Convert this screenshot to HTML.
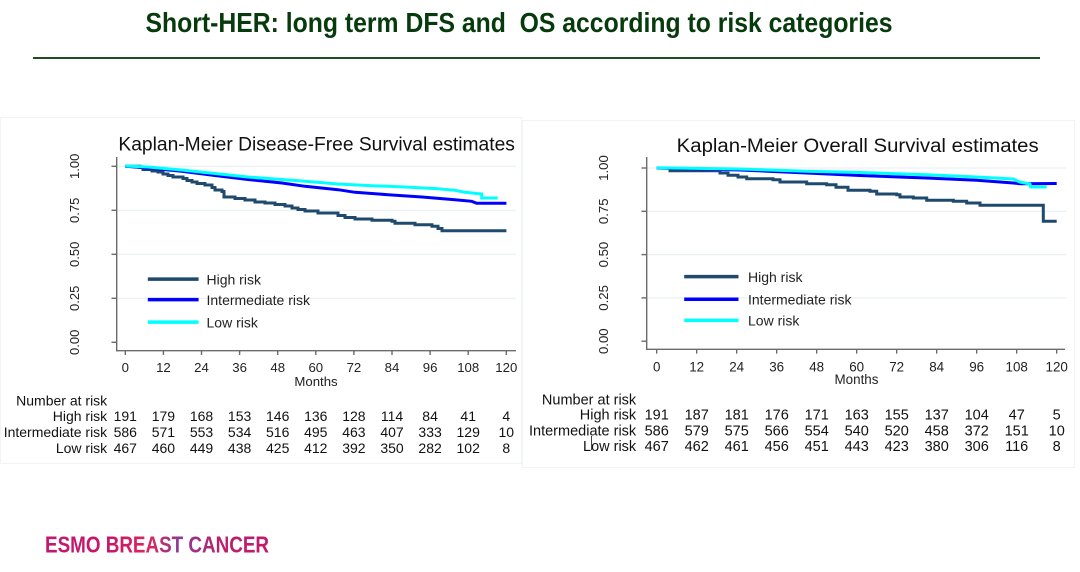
<!DOCTYPE html>
<html>
<head>
<meta charset="utf-8">
<style>
  html,body{margin:0;padding:0;background:#fff;}
  body{width:1080px;height:572px;overflow:hidden;}
  svg{display:block;}
  text{font-family:"Liberation Sans",Arial,sans-serif;}
</style>
</head>
<body>
<svg width="1080" height="572" viewBox="0 0 1080 572" xmlns="http://www.w3.org/2000/svg">
  <defs>
    <linearGradient id="esmo" x1="45" y1="0" x2="270" y2="0" gradientUnits="userSpaceOnUse">
      <stop offset="0" stop-color="#c2186f"/>
      <stop offset="0.3" stop-color="#c8166a"/>
      <stop offset="0.45" stop-color="#e0245c"/>
      <stop offset="0.6" stop-color="#8c3c94"/>
      <stop offset="0.78" stop-color="#b8206e"/>
      <stop offset="1" stop-color="#c3186c"/>
    </linearGradient>
  </defs>
  <rect width="1080" height="572" fill="#fff"/>

  <!-- Header -->
  <text x="145.5" y="32" font-size="28" font-weight="bold" fill="#073a0c" textLength="747" lengthAdjust="spacingAndGlyphs" xml:space="preserve">Short-HER: long term DFS and  OS according to risk categories</text>
  <line x1="33" y1="58" x2="1040" y2="58" stroke="#1e4d22" stroke-width="2"/>

  <!-- Panel borders -->
  <rect x="0.5" y="117.5" width="521" height="346" fill="none" stroke="#f0f4f5" stroke-width="1"/>
  <rect x="522.5" y="120.5" width="552" height="347" fill="none" stroke="#f0f4f5" stroke-width="1"/>

  <!-- ================= LEFT CHART (DFS) ================= -->
  <text x="118.4" y="150.5" font-size="19" fill="#111" textLength="396.5" lengthAdjust="spacingAndGlyphs">Kaplan-Meier Disease-Free Survival estimates</text>

  <g stroke="#eaf1f3" stroke-width="1.2">
    <line x1="117" y1="166.3" x2="516" y2="166.3"/>
    <line x1="117" y1="210.3" x2="516" y2="210.3"/>
    <line x1="117" y1="254.3" x2="516" y2="254.3"/>
    <line x1="117" y1="298.3" x2="516" y2="298.3"/>
  </g>
  <g stroke="#6b6b6b" stroke-width="1.4" fill="none">
    <line x1="116.7" y1="157" x2="116.7" y2="351.4"/>
    <line x1="116" y1="350.7" x2="516" y2="350.7"/>
    <line x1="111.5" y1="166.3" x2="116.7" y2="166.3"/>
    <line x1="111.5" y1="210.3" x2="116.7" y2="210.3"/>
    <line x1="111.5" y1="254.3" x2="116.7" y2="254.3"/>
    <line x1="111.5" y1="298.3" x2="116.7" y2="298.3"/>
    <line x1="111.5" y1="342.3" x2="116.7" y2="342.3"/>
    <line x1="125.3" y1="350.7" x2="125.3" y2="355"/>
    <line x1="163.4" y1="350.7" x2="163.4" y2="355"/>
    <line x1="201.5" y1="350.7" x2="201.5" y2="355"/>
    <line x1="239.6" y1="350.7" x2="239.6" y2="355"/>
    <line x1="277.7" y1="350.7" x2="277.7" y2="355"/>
    <line x1="315.8" y1="350.7" x2="315.8" y2="355"/>
    <line x1="353.9" y1="350.7" x2="353.9" y2="355"/>
    <line x1="392.0" y1="350.7" x2="392.0" y2="355"/>
    <line x1="430.1" y1="350.7" x2="430.1" y2="355"/>
    <line x1="468.2" y1="350.7" x2="468.2" y2="355"/>
    <line x1="506.3" y1="350.7" x2="506.3" y2="355"/>
  </g>
  <g font-size="13" fill="#222" text-anchor="middle">
    <text transform="translate(79.2,166.3) rotate(-90)">1.00</text>
    <text transform="translate(79.2,210.3) rotate(-90)">0.75</text>
    <text transform="translate(79.2,254.3) rotate(-90)">0.50</text>
    <text transform="translate(79.2,298.3) rotate(-90)">0.25</text>
    <text transform="translate(79.2,342.3) rotate(-90)">0.00</text>
  </g>
  <g font-size="13.2" fill="#222" text-anchor="middle">
    <text x="125.3" y="372">0</text>
    <text x="163.4" y="372">12</text>
    <text x="201.5" y="372">24</text>
    <text x="239.6" y="372">36</text>
    <text x="277.7" y="372">48</text>
    <text x="315.8" y="372">60</text>
    <text x="353.9" y="372">72</text>
    <text x="392.0" y="372">84</text>
    <text x="430.1" y="372">96</text>
    <text x="468.2" y="372">108</text>
    <text x="506.3" y="372">120</text>
    <text x="316" y="386">Months</text>
  </g>

  <path d="M125.3 166.3 H140 V167.5 H143 V169.5 H152 V171 H158 V172 H163 V174 H168 V175.5 H173 V177 H183 V178.5 H187 V180.5 H192 V182 H197 V183.5 H205 V185 H212 V187.5 H215 V190 H222 V191.5 H224 V197 H235 V198.5 H245 V200 H255 V202 H265 V203 H275 V204.5 H285 V206 H292 V208 H298 V209.5 H305 V211 H318 V213 H338 V215.5 H345 V217.5 H355 V219 H372 V220.3 H392 V221.3 H395 V223.3 H415 V224.7 H432 V226.3 H438 V228.5 H442 V230.7 H506.4" fill="none" stroke="#1f4a6d" stroke-width="3"/>
  <polyline points="125.3,166.3 148,168 181.7,171.3 215,175.5 248,179.5 282,183 305,186.3 338,189.7 355,192.3 388,194.7 422,197 455,199.7 471.7,201.3 476.7,203.3 506.4,203.3" fill="none" stroke="#0000ff" stroke-width="3"/>
  <polyline points="125.3,166 148,167 181.7,170 215,173.5 248,177 282,179.5 305,181.3 338,184 372,185.7 405,187 438,188.7 455,190.3 465,192.3 481.7,194 481.7,198 497.7,198" fill="none" stroke="#00ffff" stroke-width="3"/>

  <line x1="147.8" y1="279.1" x2="198.6" y2="279.1" stroke="#1f4a6d" stroke-width="3.5"/>
  <line x1="147.8" y1="299.6" x2="198.6" y2="299.6" stroke="#0000ff" stroke-width="3.5"/>
  <line x1="147.8" y1="322.1" x2="198.6" y2="322.1" stroke="#00ffff" stroke-width="3.5"/>
  <g font-size="14" fill="#222">
    <text x="206.5" y="284.3">High risk</text>
    <text x="206.5" y="304.8">Intermediate risk</text>
    <text x="206.5" y="327.3">Low risk</text>
  </g>

  <g font-size="14" fill="#111">
    <g text-anchor="end">
      <text x="107.2" y="405.5">Number at risk</text>
      <text x="107.2" y="421">High risk</text>
      <text x="107.2" y="437">Intermediate risk</text>
      <text x="107.2" y="453">Low risk</text>
    </g>
    <g text-anchor="middle">
      <text y="421"><tspan x="125.3">191</tspan><tspan x="163.4">179</tspan><tspan x="201.5">168</tspan><tspan x="239.6">153</tspan><tspan x="277.7">146</tspan><tspan x="315.8">136</tspan><tspan x="353.9">128</tspan><tspan x="392.0">114</tspan><tspan x="430.1">84</tspan><tspan x="468.2">41</tspan><tspan x="506.3">4</tspan></text>
      <text y="437"><tspan x="125.3">586</tspan><tspan x="163.4">571</tspan><tspan x="201.5">553</tspan><tspan x="239.6">534</tspan><tspan x="277.7">516</tspan><tspan x="315.8">495</tspan><tspan x="353.9">463</tspan><tspan x="392.0">407</tspan><tspan x="430.1">333</tspan><tspan x="468.2">129</tspan><tspan x="506.3">10</tspan></text>
      <text y="453"><tspan x="125.3">467</tspan><tspan x="163.4">460</tspan><tspan x="201.5">449</tspan><tspan x="239.6">438</tspan><tspan x="277.7">425</tspan><tspan x="315.8">412</tspan><tspan x="353.9">392</tspan><tspan x="392.0">350</tspan><tspan x="430.1">282</tspan><tspan x="468.2">102</tspan><tspan x="506.3">8</tspan></text>
    </g>
  </g>

  <!-- ================= RIGHT CHART (OS) ================= -->
  <text x="676.7" y="152" font-size="19" fill="#111" textLength="362" lengthAdjust="spacingAndGlyphs">Kaplan-Meier Overall Survival estimates</text>

  <g stroke="#eaf1f3" stroke-width="1.2">
    <line x1="647" y1="168" x2="1066" y2="168"/>
    <line x1="647" y1="211.3" x2="1066" y2="211.3"/>
    <line x1="647" y1="254.6" x2="1066" y2="254.6"/>
    <line x1="647" y1="297.9" x2="1066" y2="297.9"/>
  </g>
  <g stroke="#6b6b6b" stroke-width="1.4" fill="none">
    <line x1="646.7" y1="157" x2="646.7" y2="350"/>
    <line x1="646" y1="349.3" x2="1065" y2="349.3"/>
    <line x1="641.5" y1="168" x2="646.7" y2="168"/>
    <line x1="641.5" y1="211.3" x2="646.7" y2="211.3"/>
    <line x1="641.5" y1="254.6" x2="646.7" y2="254.6"/>
    <line x1="641.5" y1="297.9" x2="646.7" y2="297.9"/>
    <line x1="641.5" y1="341.2" x2="646.7" y2="341.2"/>
    <line x1="656.7" y1="349.3" x2="656.7" y2="353.6"/>
    <line x1="696.7" y1="349.3" x2="696.7" y2="353.6"/>
    <line x1="736.7" y1="349.3" x2="736.7" y2="353.6"/>
    <line x1="776.7" y1="349.3" x2="776.7" y2="353.6"/>
    <line x1="816.7" y1="349.3" x2="816.7" y2="353.6"/>
    <line x1="856.7" y1="349.3" x2="856.7" y2="353.6"/>
    <line x1="896.7" y1="349.3" x2="896.7" y2="353.6"/>
    <line x1="936.7" y1="349.3" x2="936.7" y2="353.6"/>
    <line x1="976.7" y1="349.3" x2="976.7" y2="353.6"/>
    <line x1="1016.7" y1="349.3" x2="1016.7" y2="353.6"/>
    <line x1="1056.7" y1="349.3" x2="1056.7" y2="353.6"/>
  </g>
  <g font-size="13.2" fill="#222" text-anchor="middle">
    <text transform="translate(608.1,168) rotate(-90)">1.00</text>
    <text transform="translate(608.1,211.3) rotate(-90)">0.75</text>
    <text transform="translate(608.1,254.6) rotate(-90)">0.50</text>
    <text transform="translate(608.1,297.9) rotate(-90)">0.25</text>
    <text transform="translate(608.1,341.2) rotate(-90)">0.00</text>
  </g>
  <g font-size="13.4" fill="#222" text-anchor="middle">
    <text x="656.7" y="371.4">0</text>
    <text x="696.7" y="371.4">12</text>
    <text x="736.7" y="371.4">24</text>
    <text x="776.7" y="371.4">36</text>
    <text x="816.7" y="371.4">48</text>
    <text x="856.7" y="371.4">60</text>
    <text x="896.7" y="371.4">72</text>
    <text x="936.7" y="371.4">84</text>
    <text x="976.7" y="371.4">96</text>
    <text x="1016.7" y="371.4">108</text>
    <text x="1056.7" y="371.4">120</text>
    <text x="856.5" y="384">Months</text>
  </g>

  <path d="M656.7 168 H670 V170.7 H720 V173 H728 V175.3 H738 V177 H746.7 V178.7 H773 V179.7 H780 V182 H806.7 V183.7 H826.7 V184.7 H836 V187.3 H848 V190.3 H870 V191.3 H876.7 V194 H896.7 V194.7 H900 V197 H913.3 V198 H926.7 V200.3 H953.3 V201.3 H966.7 V203 H980 V205.3 H1043.3 V221.3 H1056.7" fill="none" stroke="#1f4a6d" stroke-width="3"/>
  <polyline points="656.7,168 740,170 806.7,173 860,175.5 926.7,178 976.7,180.3 1013.3,183 1020,183.7 1056.7,183.5" fill="none" stroke="#0000ff" stroke-width="3"/>
  <polyline points="656.7,167.8 740,169 806.7,171.3 860,172.5 926.7,174.7 976.7,177 1013.3,179 1020,182 1030,184 1030.7,187 1046.7,187" fill="none" stroke="#00ffff" stroke-width="3"/>

  <line x1="684.2" y1="276.6" x2="738.5" y2="276.6" stroke="#1f4a6d" stroke-width="3.5"/>
  <line x1="684.2" y1="299.2" x2="738.5" y2="299.2" stroke="#0000ff" stroke-width="3.5"/>
  <line x1="684.2" y1="320.4" x2="738.5" y2="320.4" stroke="#00ffff" stroke-width="3.5"/>
  <g font-size="14" fill="#222">
    <text x="748" y="281.8">High risk</text>
    <text x="748" y="304.4">Intermediate risk</text>
    <text x="748" y="325.6">Low risk</text>
  </g>

  <g font-size="14.5" fill="#111">
    <g text-anchor="end">
      <text x="636.2" y="404.3">Number at risk</text>
      <text x="636.2" y="419.5">High risk</text>
      <text x="636.2" y="435.6">Intermediate risk</text>
      <text x="636.2" y="451">Low risk</text>
    </g>
    <g text-anchor="middle">
      <text y="419.5"><tspan x="656.7">191</tspan><tspan x="696.7">187</tspan><tspan x="736.7">181</tspan><tspan x="776.7">176</tspan><tspan x="816.7">171</tspan><tspan x="856.7">163</tspan><tspan x="896.7">155</tspan><tspan x="936.7">137</tspan><tspan x="976.7">104</tspan><tspan x="1016.7">47</tspan><tspan x="1056.7">5</tspan></text>
      <text y="435.6"><tspan x="656.7">586</tspan><tspan x="696.7">579</tspan><tspan x="736.7">575</tspan><tspan x="776.7">566</tspan><tspan x="816.7">554</tspan><tspan x="856.7">540</tspan><tspan x="896.7">520</tspan><tspan x="936.7">458</tspan><tspan x="976.7">372</tspan><tspan x="1016.7">151</tspan><tspan x="1056.7">10</tspan></text>
      <text y="451"><tspan x="656.7">467</tspan><tspan x="696.7">462</tspan><tspan x="736.7">461</tspan><tspan x="776.7">456</tspan><tspan x="816.7">451</tspan><tspan x="856.7">443</tspan><tspan x="896.7">423</tspan><tspan x="936.7">380</tspan><tspan x="976.7">306</tspan><tspan x="1016.7">116</tspan><tspan x="1056.7">8</tspan></text>
    </g>
  </g>
  <line x1="591.5" y1="436" x2="591.5" y2="450" stroke="#444" stroke-width="1"/>

  <text x="45" y="552.5" font-size="23" font-weight="bold" fill="url(#esmo)" textLength="224" lengthAdjust="spacingAndGlyphs">ESMO BREAST CANCER</text>
</svg>
</body>
</html>
